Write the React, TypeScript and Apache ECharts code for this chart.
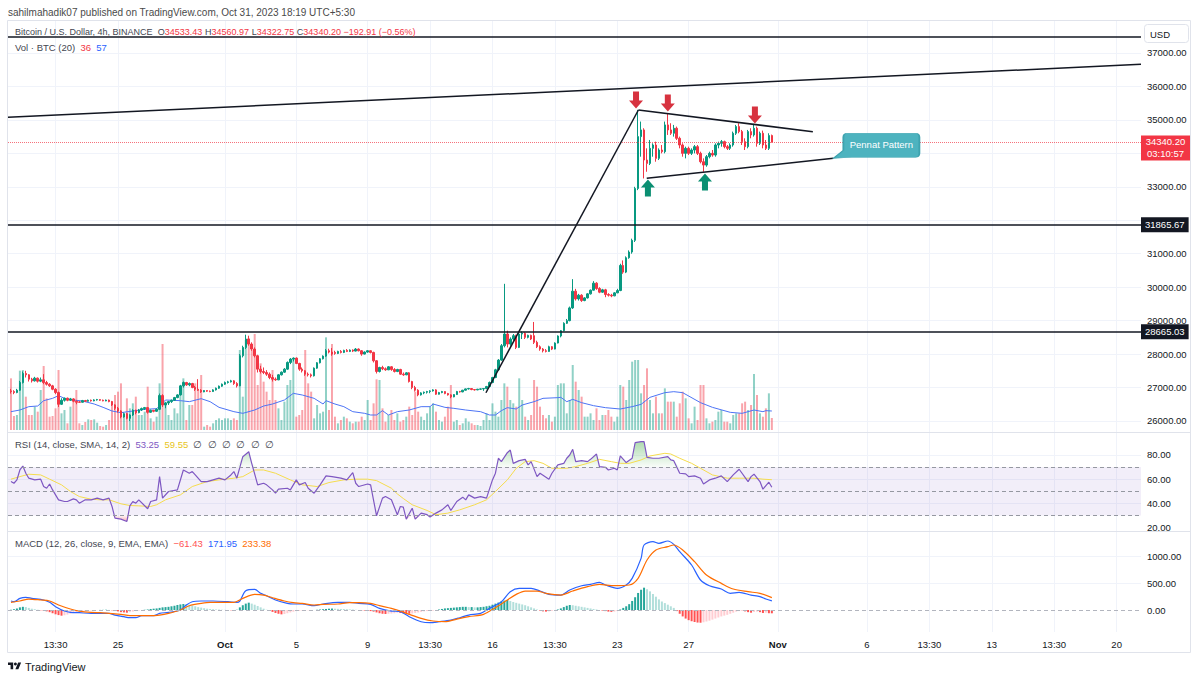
import React, { useEffect, useRef } from "react";
import * as echarts from "echarts";

// ---------- DATA ----------
const FIRST_BAR = -72; // bar index of first candle (0 = Oct 1 01:30)
const X_MIN = -73.0;
const X_MAX = 308.2;

// [open, high, low, close] per 4h candle
const OHLC: number[][] = [
  [26900,26960,26820,26880],[26880,26920,26800,26850],[26850,26960,26830,26920],[26920,27200,26900,27150],[27150,27480,27120,27420],[27420,27500,27300,27380],[27380,27400,27180,27250],[27250,27290,27150,27200],[27200,27320,27180,27280],[27280,27300,27150,27190],
  [27190,27300,27160,27230],[27230,27400,27100,27150],[27150,27200,27060,27100],[27100,27130,27020,27050],[27050,27080,26920,26950],[26950,26980,26800,26850],[26850,26880,26420,26500],[26500,26680,26480,26620],[26620,26700,26580,26680],[26680,26700,26590,26620],
  [26620,26690,26600,26660],[26660,26680,26560,26590],[26590,26620,26500,26560],[26570,26600,26540,26560],[26560,26630,26550,26610],[26610,26630,26570,26590],[26590,26640,26580,26620],[26620,26640,26580,26600],[26600,26650,26590,26630],[26630,26660,26610,26640],
  [26640,26650,26600,26620],[26620,26640,26590,26600],[26600,26640,26590,26625],[26625,26640,26560,26580],[26580,26600,26450,26480],[26480,26500,26330,26380],[26380,26420,26250,26300],[26300,26320,26080,26120],[26120,26250,26100,26220],[26220,26240,26050,26080],
  [26080,26200,26000,26180],[26180,26350,26150,26320],[26320,26340,26200,26250],[26250,26360,26230,26330],[26330,26400,26300,26370],[26370,26420,26330,26400],[26400,26420,26220,26260],[26260,26340,26240,26320],[26320,26330,26260,26290],[26290,26380,26270,26350],
  [26350,26820,26330,26760],[26760,26800,26420,26480],[26480,26560,26380,26540],[26540,26600,26480,26580],[26580,26640,26540,26620],[26620,26720,26600,26700],[26700,26800,26680,26780],[26780,27080,26760,27050],[27050,27180,27000,27150],[27150,27170,27050,27080],
  [27080,27150,27040,27120],[27120,27140,26980,27000],[27000,27050,26900,26950],[26950,27250,26900,26920],[26920,26950,26840,26870],[26870,26920,26860,26910],[26910,26920,26870,26890],[26890,26910,26860,26880],[26880,26950,26870,26930],[26930,27000,26910,26980],
  [26980,27060,26960,27040],[27040,27120,27020,27100],[27100,27180,27080,27150],[27150,27200,27120,27170],[27170,27230,27150,27200],[27200,27220,27080,27120],[27120,27160,27000,27050],[27050,28000,27040,27950],[27950,28250,27900,28200],[28200,28580,28150,28450],
  [28450,28550,28250,28300],[28300,28350,28100,28150],[28150,28200,27900,27950],[27950,27980,27450,27550],[27550,27650,27420,27480],[27480,27600,27400,27450],[27450,27520,27350,27400],[27400,27450,27250,27300],[27300,27380,27180,27250],[27250,27300,27200,27230],
  [27230,27400,27220,27380],[27380,27480,27360,27460],[27460,27580,27440,27550],[27550,27780,27530,27750],[27750,27880,27700,27850],[27850,27900,27780,27880],[27880,27900,27700,27720],[27720,27740,27500,27550],[27550,27600,27450,27500],[27500,27520,27350,27400],
  [27400,27450,27330,27380],[27380,27420,27300,27350],[27350,27600,27330,27580],[27580,27760,27560,27740],[27740,27880,27720,27860],[27860,27960,27840,27940],[27940,28150,27920,28100],[28100,28160,28020,28060],[28060,28180,27950,28000],[28050,28100,27980,28020],
  [28020,28100,28000,28080],[28080,28120,28020,28050],[28050,28130,28030,28110],[28110,28150,28060,28080],[28080,28140,28060,28120],[28120,28140,28060,28090],[28090,28180,28080,28150],[28150,28170,28080,28100],[28100,28120,27950,28000],[28000,28080,27990,28060],
  [28060,28120,28040,28100],[28100,28110,28020,28050],[28050,28070,27750,27800],[27800,27820,27420,27480],[27480,27620,27450,27600],[27600,27650,27520,27560],[27560,27600,27500,27530],[27530,27640,27520,27620],[27620,27640,27500,27540],[27540,27580,27450,27480],
  [27480,27560,27460,27540],[27540,27560,27380,27400],[27400,27450,27350,27380],[27380,27460,27370,27440],[27440,27460,27150,27180],[27180,27200,26950,27000],[27000,27050,26880,26920],[26920,26950,26740,26780],[26780,26860,26760,26840],[26840,26880,26800,26860],
  [26860,26900,26820,26880],[26880,26920,26830,26900],[26900,26950,26880,26930],[26930,26950,26780,26800],[26800,26870,26790,26850],[26850,26900,26830,26880],[26880,26890,26800,26820],[26820,26840,26760,26780],[26780,26800,26680,26720],[26720,26800,26710,26790],
  [26790,26900,26780,26880],[26880,26900,26850,26870],[26870,26930,26860,26920],[26920,26970,26910,26960],[26960,26990,26940,26970],[26970,26980,26920,26940],[26940,26950,26910,26930],[26930,26960,26920,26950],[26950,26970,26930,26960],[26960,26980,26900,26970],
  [26970,27050,26950,27030],[27030,27180,27010,27150],[27150,27320,27130,27300],[27300,27560,27280,27530],[27530,27850,27500,27820],[27820,28300,27800,28250],[28250,30100,28200,28600],[28600,28700,28200,28300],[28300,28500,28250,28450],[28450,28600,28400,28550],
  [28550,28580,28150,28200],[28200,28650,28180,28600],[28600,28680,28450,28620],[28620,28650,28450,28500],[28500,28580,28470,28560],[28560,28580,28420,28450],[28550,28960,28300,28350],[28350,28400,28180,28220],[28220,28260,28100,28150],[28150,28180,28050,28100],
  [28100,28150,28050,28080],[28080,28250,28070,28220],[28220,28240,28120,28150],[28150,28350,28140,28330],[28330,28560,28320,28540],[28540,28720,28500,28700],[28700,28950,28680,28920],[28920,29050,28900,29000],[29000,29420,28980,29380],[29380,30240,29350,29880],
  [29880,29950,29600,29650],[29650,29800,29600,29760],[29760,29790,29560,29600],[29600,29700,29580,29680],[29680,29820,29660,29800],[29800,29930,29780,29910],[29910,30180,29900,30120],[30120,30150,29920,29960],[29960,30000,29820,29850],[29850,29950,29830,29920],
  [29920,29950,29700,29780],[29780,29820,29720,29760],[29760,29800,29700,29740],[29740,29850,29730,29830],[29830,29950,29820,29900],[29900,30700,29880,30650],[30650,30800,30400,30450],[30450,30920,30420,30880],[30880,31100,30850,31050],[31050,31450,31000,31400],
  [31400,33000,31350,32950],[32950,35300,32900,34500],[34500,34950,33900,34700],[34700,34750,33250,33800],[33800,34150,33450,33700],[33700,34400,33650,34150],[34150,34300,33900,34250],[34250,34350,33750,33850],[33850,34150,33800,34100],[34100,34250,34000,34050],
  [34050,34950,34000,34850],[34850,35200,34550,34700],[34700,34900,34550,34600],[34600,34850,34500,34750],[34750,34800,34400,34450],[34450,34500,34150,34250],[34250,34300,33900,34000],[34000,34200,33850,34150],[34150,34200,33950,34000],[34000,34150,33950,34100],
  [34100,34250,34000,34200],[34200,34250,33950,34000],[34000,34050,33700,33750],[33750,33850,33450,33650],[33650,33950,33600,33900],[33900,34050,33850,34000],[34000,34100,33900,33950],[33950,34300,33900,34250],[34250,34350,34150,34300],[34300,34400,34200,34350],
  [34350,34380,34150,34200],[34200,34250,34100,34150],[34150,34300,34100,34250],[34250,34650,34200,34600],[34600,34850,34550,34800],[34800,34900,34600,34650],[34650,34700,34250,34350],[34350,34450,34100,34200],[34200,34700,34150,34650],[34650,34750,34450,34550],
  [34550,34880,34500,34750],[34750,34800,34200,34300],[34300,34650,34250,34600],[34600,34680,34150,34250],[34250,34400,34100,34150],[34150,34600,34100,34533.43],[34533.43,34560.97,34322.75,34340.2],
];

// volume (BTC) per candle
const VOLUME: number[] = [
  155,42,45,178,180,100,45,45,70,55,
  120,192,95,40,42,65,180,50,60,20,
  70,85,120,20,15,24,32,30,32,22,
  12,10,15,30,85,105,115,140,45,95,
  65,80,100,45,45,55,130,35,25,40,
  140,258,85,45,30,65,50,130,155,30,
  75,75,140,120,165,10,15,10,20,30,
  35,30,35,35,30,35,30,240,100,270,
  275,240,288,135,200,145,115,90,180,90,
  65,30,85,135,150,215,40,45,60,240,
  140,115,35,75,50,55,278,60,258,40,
  20,30,40,35,25,20,25,25,40,30,
  90,30,80,152,150,65,25,45,60,30,
  50,25,30,40,70,45,115,55,40,30,
  50,70,80,55,30,25,40,70,135,25,
  30,15,20,35,25,20,15,15,12,30,
  50,30,80,55,40,90,140,130,90,80,
  70,155,90,40,30,45,150,130,70,45,
  35,45,25,40,135,140,140,50,90,195,
  145,120,100,40,40,50,30,65,30,45,
  45,60,40,25,40,135,130,90,150,205,
  210,210,110,135,185,90,50,100,50,50,
  125,85,85,85,40,80,115,95,35,20,
  70,30,135,135,35,20,25,30,55,60,
  25,25,20,45,50,50,80,85,60,75,
  168,105,50,40,65,110,36,
];

// MACD histogram per candle
const MACD_HIST: number[] = [
  5,15,30,50,60,55,40,25,15,5,
  -5,-15,-25,-40,-60,-80,-95,-106,-100,-85,
  -70,-55,-40,-30,-20,-15,-10,-8,-5,-3,
  2,3,5,2,-5,-15,-25,-40,-45,-50,
  -40,-30,-20,-10,0,5,10,20,25,30,
  40,50,55,60,70,80,95,105,113,110,
  100,85,70,55,45,35,25,20,15,10,
  8,5,3,0,-5,-3,5,50,90,120,
  138,120,100,75,50,25,5,-15,-35,-55,
  -70,-81,-75,-60,-45,-30,-20,-15,-10,-8,
  -5,-3,0,5,10,15,20,25,28,25,
  22,20,18,15,12,10,5,0,-5,-10,
  -15,-20,-30,-45,-60,-70,-75,-70,-65,-60,
  -50,-55,-60,-65,-70,-65,-55,-45,-35,-25,
  -20,-15,-10,0,10,20,30,35,40,45,
  50,55,60,60,55,55,50,50,55,60,
  70,80,100,120,140,160,175,188,170,150,
  135,120,105,90,70,50,30,10,-10,-25,
  -30,-25,-15,-5,10,30,55,80,94,90,
  80,70,60,50,40,30,20,10,0,-10,
  -20,-30,-35,-30,-20,10,40,70,110,170,
  240,320,380,419,390,350,300,250,200,160,
  130,100,70,40,-20,-70,-120,-160,-190,-210,
  -225,-235,-238,-230,-215,-200,-180,-160,-140,-120,
  -105,-90,-70,-50,-30,-20,-15,-25,-40,-50,
  -35,-30,-40,-55,-50,-60,-61.43,
];

// sampled [barIndex, value] readings
const VOLUME_MA: number[][] = [
  [-72,55],[-69,60],[-66,70],[-63,72],[-61,88],[-58,95],[-56,103],[-54,95],[-51,90],[-48,87],[-44,78],[-41,68],[-38,57],[-35,52],[-31,57],[-27,62],[-23,64],[-22,72],[-20,90],[-15,88],[-12,85],[-8,94],[-5,85],[-2,68],[3,55],[6,50],[10,60],[13,72],[16,78],[20,90],[23,110],[26,105],[30,95],[33,78],[34,88],[37,78],[40,70],[43,55],[47,50],[49,45],[51,45],[53,58],[55,45],[58,55],[62,60],[66,70],[69,70],[70,78],[74,68],[77,65],[81,60],[86,55],[89,45],[91,45],[93,58],[95,67],[98,63],[100,75],[104,85],[107,95],[112,97],[113,98],[115,85],[117,92],[120,82],[124,73],[128,67],[133,63],[137,70],[140,77],[143,98],[148,112],[151,115],[154,112],[160,82],[164,68],[170,53],[174,50],[178,60],[181,55],[182,58],[184,57],
];
const RSI: number[][] = [
  [-72,58],[-71,56.6],[-70,59.4],[-69,67.6],[-68,70.9],[-67,64.9],[-66,60.8],[-64,59.4],[-62,60],[-61,54],[-60,52.5],[-59,56],[-58,51.1],[-56,42.9],[-54,41.5],[-53,41.5],[-51,43.7],[-50,42.9],[-49,40.1],[-47,42.9],[-45,42.9],[-43,44.3],[-41,42.9],[-39,44.3],[-38,37.4],[-37,27.8],[-35,26.9],[-33,25],[-32,37.9],[-31,41.5],[-30,40.1],[-29,42.9],[-26,35.5],[-25,41.5],[-23,42.9],[-22,62.1],[-21,44.3],[-19,49.8],[-16,51.1],[-14,67.6],[-12,64.9],[-11,66.3],[-10,63.5],[-8,58],[-6,58],[-4,59.4],[-2,60.8],[0,59.4],[2,63.5],[3,66.3],[4,60.8],[6,78.6],[8,82.7],[9,73.1],[11,55.3],[13,56.6],[14,55.3],[16,51.1],[17,48.4],[18,51.7],[21,52.5],[22,51.1],[24,59.4],[25,55.3],[27,57.2],[28,52.5],[30,48.4],[32,55.3],[34,62.7],[36,62.1],[39,60.8],[41,59.4],[43,65.4],[44,56.6],[45,53.9],[48,56],[49,55.3],[51,29.7],[53,44.3],[54,45.6],[56,42.9],[58,30.6],[59,37.4],[60,36.8],[61,26.9],[63,36],[64,26.9],[66,31.9],[68,30.6],[69,28.6],[71,31.9],[73,34.6],[75,38.8],[76,34.1],[78,41.5],[80,45.1],[81,42.9],[82,47],[84,44.3],[86,45.6],[88,44.3],[90,59.4],[91,64.9],[92,77.3],[93,74.5],[95,81.9],[96,84.1],[97,73.1],[99,75.3],[101,76.4],[102,71.8],[103,74.5],[105,62.1],[106,64.9],[109,60],[110,64.9],[112,71.8],[114,73.1],[115,77.3],[116,80],[117,84.7],[118,74.5],[120,75.3],[122,74.5],[123,76.4],[125,80.8],[126,70.4],[128,69.8],[129,67.6],[131,69],[132,67.6],[133,79.2],[135,73.7],[137,77.3],[138,90.2],[140,91],[141,91],[142,78.1],[144,77.3],[146,77.3],[149,78.6],[150,75.9],[151,75.3],[153,64.9],[155,64.4],[156,62.1],[158,62.7],[160,60.8],[161,56],[163,59.4],[165,60.8],[167,62.7],[169,58],[171,63.5],[173,68.2],[176,58],[177,62.1],[178,64.1],[180,58],[181,51.7],[183,57.5],[184,53.25],
];
const RSI_MA: number[][] = [
  [-72,60],[-69,62.1],[-66,64.1],[-62,63.5],[-59,60],[-55,55.3],[-52,49.8],[-49,45.6],[-45,43.4],[-42,42.9],[-39,42.9],[-35,39.6],[-32,38.2],[-29,37.9],[-25,37.4],[-23,38.8],[-20,42.9],[-15,47],[-11,53.9],[-6,58],[-2,59.4],[3,60.8],[6,62.1],[10,67.6],[13,67.6],[17,64.9],[22,59.4],[26,55.3],[31,53.9],[35,57.2],[40,59.4],[44,60],[48,60],[51,58.8],[56,52.5],[58,47.8],[60,44],[63,38.8],[68,34.1],[71,30.6],[75,31.9],[79,34.6],[84,38.8],[88,42.9],[91,49.8],[95,59.4],[98,69],[101,74.5],[104,75.3],[107,73.1],[110,69],[115,69],[118,70.4],[122,73.1],[126,76.4],[130,74.5],[133,73.1],[136,73.1],[140,75.9],[143,79.2],[148,81.4],[150,80.8],[153,77.3],[157,73.1],[160,69],[164,63.5],[169,60.8],[173,60.8],[178,60.8],[181,60],[184,59.55],
];
const MACD_LINE: number[][] = [
  [-72,169],[-71,156],[-69,219],[-67,238],[-65,219],[-61,188],[-59,144],[-57,63],[-54,-19],[-52,-44],[-49,-50],[-45,-63],[-42,-63],[-39,-63],[-37,-94],[-34,-125],[-32,-144],[-30,-144],[-28,-106],[-24,-106],[-22,-63],[-19,-44],[-15,0],[-13,94],[-11,156],[-8,169],[-4,169],[1,156],[4,144],[5,169],[7,363],[10,388],[12,313],[14,269],[17,188],[21,125],[23,113],[26,113],[30,81],[33,113],[38,144],[42,144],[45,125],[49,106],[52,31],[56,-19],[59,-31],[62,-125],[66,-219],[69,-238],[72,-219],[76,-188],[79,-144],[82,-94],[86,-63],[89,31],[93,156],[96,344],[99,406],[103,406],[106,356],[109,294],[113,281],[116,375],[120,456],[123,481],[126,519],[128,469],[132,406],[135,469],[137,594],[140,969],[141,1219],[144,1281],[146,1250],[149,1294],[151,1231],[153,1094],[157,844],[160,563],[163,456],[167,394],[170,313],[173,331],[177,281],[180,250],[182,206],[184,172],
];
const SIGNAL_LINE: number[][] = [
  [-72,144],[-69,169],[-66,206],[-62,188],[-59,169],[-56,94],[-52,19],[-49,-19],[-45,-44],[-42,-50],[-39,-63],[-35,-81],[-32,-106],[-29,-106],[-25,-106],[-22,-94],[-19,-63],[-15,0],[-12,81],[-8,125],[-5,144],[-2,144],[3,144],[6,219],[10,294],[13,281],[16,231],[20,169],[23,138],[26,125],[30,94],[33,106],[38,113],[42,138],[45,138],[49,125],[52,81],[56,31],[59,-19],[62,-81],[66,-156],[70,-206],[74,-219],[78,-169],[82,-125],[87,-81],[91,44],[95,188],[98,294],[101,356],[105,356],[108,313],[113,281],[117,356],[122,438],[126,481],[131,456],[136,469],[139,594],[142,938],[145,1125],[149,1188],[151,1219],[154,1125],[158,906],[162,656],[167,500],[171,394],[176,344],[180,313],[184,233],
];

// axes
const X_TICKS = [-57, -36, 0, 24, 48, 69, 90, 111, 132, 156, 186, 216, 237, 258, 279, 300];
const X_LABELS = ["13:30", "25", "Oct", "5", "9", "13:30", "16", "13:30", "23", "27", "Nov", "6", "13:30", "13", "13:30", "20"];
const MONTH_LABELS = ["Oct", "Nov"];
const PRICE_GRID = [26000, 27000, 28000, 29000, 30000, 31000, 32000, 33000, 34000, 35000, 36000, 37000];
// 32000 and 34000 are hidden behind the price badges in the reference
const PRICE_LABELS = [26000, 27000, 28000, 29000, 30000, 31000, 33000, 35000, 36000, 37000];
const RSI_TICKS = [20, 40, 60, 80];
const MACD_TICKS = [0, 500, 1000];
const MACD_GRIDLINES = [500, 1000];

// drawings
const TOP_LEVEL = 37487;
const BADGE_LEVELS = [31865.67, 28665.03];
const LAST_PRICE = 34340.2;
const COUNTDOWN = "03:10:57";
const TREND_LINES: number[][][] = [
  [[-73, 35078], [308.2, 36662]],
  [[87.8, 26844], [139.1, 35296]],
  [[139.1, 35296], [197.8, 34647]],
  [[141.9, 33254], [204.7, 33852]],
];
const RED_ARROWS: number[][] = [[138.3, 35595], [149, 35505], [178.3, 35146]];
const GREEN_ARROWS: number[][] = [[142.3, 32964], [161.5, 33143]];
const CALLOUT_ANCHOR = [204.7, 33852];
const CALLOUT_TEXT = "Pennat Pattern";

// ---------- STYLE ----------
const FONT = '"Liberation Sans", Arial, sans-serif';
const FS = 9.5;
const UP = "#089981";
const DOWN = "#f23645";
const TEXT = "#131722";
const GRIDC = "#f0f3fa";

const TV_LOGO = echarts.graphic.extendPath("M14 22H7V11H0V4h14v18z M28 22h-8l7.5-18h8L28 22z", {});
echarts.graphic.registerShape("tvlogo", TV_LOGO);

function xAxis(gridIndex: number, showLabel: boolean, showSplit: boolean) {
  return {
    type: "value",
    gridIndex,
    min: X_MIN,
    max: X_MAX,
    axisLine: { show: false },
    axisTick: { show: false, customValues: X_TICKS },
    axisLabel: {
      show: showLabel,
      customValues: X_TICKS,
      color: TEXT,
      fontSize: FS,
      fontFamily: FONT,
      margin: 7,
      formatter: (v: number) => {
        const k = X_TICKS.indexOf(Math.round(v));
        const t = k >= 0 ? X_LABELS[k] : "";
        return MONTH_LABELS.includes(t) ? `{b|${t}}` : t;
      },
      rich: { b: { fontWeight: "bold", fontSize: FS, fontFamily: FONT, color: TEXT } },
    },
    splitLine: { show: showSplit, lineStyle: { color: GRIDC, width: 1 } },
  };
}

function yAxis(gridIndex: number, min: number, max: number, labels: number[] | null, lines: number[] | null) {
  return {
    type: "value",
    gridIndex,
    position: "right",
    min,
    max,
    show: labels !== null,
    axisLine: { show: false },
    axisTick: { show: false, customValues: lines || [] },
    axisLabel: {
      show: labels !== null,
      customValues: labels || [],
      color: TEXT,
      fontSize: FS,
      fontFamily: FONT,
      margin: 6,
      formatter: (v: number) => v.toFixed(2),
    },
    splitLine: { show: lines !== null, lineStyle: { color: GRIDC, width: 1 } },
  };
}

function buildOption() {
  const candleData = OHLC.map((d, k) => [FIRST_BAR + k, d[0], d[3], d[2], d[1]]);
  const volData = VOLUME.map((v, k) => ({
    value: [FIRST_BAR + k, v],
    itemStyle: { color: OHLC[k][3] >= OHLC[k][0] ? "rgba(8,153,129,0.45)" : "rgba(242,54,69,0.45)" },
  }));
  const histData = MACD_HIST.map((h, k) => {
    const p = k > 0 ? MACD_HIST[k - 1] : h;
    const color = h >= 0 ? (h >= p ? "#26a69a" : "#b2dfdb") : h <= p ? "#ff5252" : "#ffcdd2";
    return { value: [FIRST_BAR + k, h], itemStyle: { color } };
  });

  const lineBlack = { color: TEXT, width: 1.5, type: "solid" };
  const markLineData: any[] = [
    { yAxis: TOP_LEVEL, lineStyle: lineBlack, label: { show: false } },
    ...BADGE_LEVELS.map((lv) => ({
      yAxis: lv,
      lineStyle: lineBlack,
      label: {
        show: true,
        position: "end",
        distance: 0,
        formatter: lv.toFixed(2),
        backgroundColor: TEXT,
        color: "#fff",
        fontSize: FS,
        fontFamily: FONT,
        padding: [3, 4, 2, 4],
      },
    })),
    {
      yAxis: LAST_PRICE,
      lineStyle: { color: "rgba(242,54,69,0.7)", width: 1, type: "dotted" },
      label: { show: false },
    },
    ...TREND_LINES.map(([a, b]) => [
      { coord: a, lineStyle: lineBlack, label: { show: false } },
      { coord: b },
    ]),
  ];

  const downArrow = "path://M4 0H10V9H14L7 17L0 9H4Z";
  const upArrow = "path://M7 0L14 8H10V17H4V8H0Z";
  const markPointData: any[] = [
    ...RED_ARROWS.map((c) => ({ coord: c, symbol: downArrow, symbolSize: [14, 17], itemStyle: { color: "#d7323f" }, label: { show: false } })),
    ...GREEN_ARROWS.map((c) => ({ coord: c, symbol: upArrow, symbolSize: [14, 17], itemStyle: { color: "#0b8f72" }, label: { show: false } })),
    {
      coord: CALLOUT_ANCHOR,
      symbol: "path://M0 25L10 17L10 4Q10 0 14 0L82 0Q86 0 86 4L86 20Q86 24 82 24L18 24Z",
      symbolSize: [86, 25],
      symbolOffset: [43, -12.5],
      itemStyle: { color: "#4db3bf", borderColor: "#3ea3af", borderWidth: 1 },
      label: { show: true, position: "inside", formatter: CALLOUT_TEXT, color: "#fff", fontSize: FS, fontFamily: FONT, offset: [5, -1] },
    },
    {
      coord: [X_MAX, LAST_PRICE],
      symbol: "rect",
      symbolSize: [49, 25],
      symbolOffset: [24.5, 6],
      itemStyle: { color: DOWN, opacity: 1 },
      label: {
        show: true,
        position: "inside",
        formatter: `${LAST_PRICE.toFixed(2)}\n${COUNTDOWN}`,
        color: "#ffffff",
        fontSize: FS,
        fontFamily: FONT,
        lineHeight: 12,
      },
    },
  ];

  const hdr = (x: number, y: number, text: string, rich: any) => ({
    type: "text",
    x,
    y,
    z: 100,
    silent: true,
    style: { text, fill: "#434651", fontSize: FS, fontFamily: FONT, verticalAlign: "middle", rich },
  });
  const r = (fill: string, size = FS) => ({ fill, fontSize: size, fontFamily: FONT });

  return {
    animation: false,
    backgroundColor: "#ffffff",
    textStyle: { fontFamily: FONT },
    grid: [
      { left: 8, right: 59, top: 20, height: 412, outerBoundsMode: "none" },
      { left: 8, right: 59, top: 300, height: 130, outerBoundsMode: "none" },
      { left: 8, right: 59, top: 433, height: 98, outerBoundsMode: "none" },
      { left: 8, right: 59, top: 532, height: 100, outerBoundsMode: "none" },
    ],
    xAxis: [xAxis(0, false, true), xAxis(1, false, false), xAxis(2, false, true), xAxis(3, true, true)],
    yAxis: [
      yAxis(0, 25671, 37986, PRICE_LABELS, PRICE_GRID),
      yAxis(1, 0, 390, null, null),
      yAxis(2, 17.1, 98.2, RSI_TICKS, [40, 60, 80]),
      yAxis(3, -412, 1463, MACD_TICKS, MACD_GRIDLINES),
    ],
    series: [
      {
        type: "bar",
        name: "Volume",
        xAxisIndex: 1,
        yAxisIndex: 1,
        barWidth: 2,
        z: 1,
        data: volData,
      },
      {
        type: "line",
        name: "Volume MA",
        xAxisIndex: 1,
        yAxisIndex: 1,
        showSymbol: false,
        z: 2,
        lineStyle: { color: "#4d74f5", width: 1 },
        data: VOLUME_MA,
      },
      {
        type: "candlestick",
        name: "BTCUSD",
        xAxisIndex: 0,
        yAxisIndex: 0,
        barWidth: 2,
        z: 3,
        clip: false,
        encode: { x: 0, y: [1, 2, 3, 4] },
        itemStyle: { color: UP, color0: DOWN, borderColor: UP, borderColor0: DOWN, borderWidth: 1 },
        data: candleData,
        markLine: { symbol: ["none", "none"], silent: true, animation: false, data: markLineData },
        markPoint: { silent: true, animation: false, data: markPointData },
      },
      {
        type: "line",
        name: "RSI overbought",
        xAxisIndex: 2,
        yAxisIndex: 2,
        showSymbol: false,
        lineStyle: { width: 0 },
        areaStyle: {
          origin: 70,
          color: new echarts.graphic.LinearGradient(0, 0, 0, 1, [
            { offset: 0, color: "rgba(76,175,80,0.65)" },
            { offset: 1, color: "rgba(76,175,80,0.05)" },
          ]),
        },
        data: RSI.map(([x, v]) => [x, Math.max(v, 70)]),
      },
      {
        type: "line",
        name: "RSI oversold",
        xAxisIndex: 2,
        yAxisIndex: 2,
        showSymbol: false,
        lineStyle: { width: 0 },
        areaStyle: {
          origin: 30,
          color: new echarts.graphic.LinearGradient(0, 1, 0, 0, [
            { offset: 0, color: "rgba(242,54,69,0.6)" },
            { offset: 1, color: "rgba(242,54,69,0.05)" },
          ]),
        },
        data: RSI.map(([x, v]) => [x, Math.min(v, 30)]),
      },
      {
        type: "line",
        name: "RSI",
        xAxisIndex: 2,
        yAxisIndex: 2,
        showSymbol: false,
        z: 4,
        lineStyle: { color: "#7e57c2", width: 1.2 },
        data: RSI,
        markArea: {
          silent: true,
          itemStyle: { color: "rgba(126,87,194,0.1)" },
          data: [[{ yAxis: 30 }, { yAxis: 70 }]],
        },
        markLine: {
          silent: true,
          symbol: ["none", "none"],
          label: { show: false },
          lineStyle: { color: "#9598a1", type: [4, 3], width: 1 },
          data: [{ yAxis: 70 }, { yAxis: 50 }, { yAxis: 30 }],
        },
      },
      {
        type: "line",
        name: "RSI MA",
        xAxisIndex: 2,
        yAxisIndex: 2,
        showSymbol: false,
        z: 3,
        lineStyle: { color: "#f5dc4d", width: 1 },
        data: RSI_MA,
      },
      {
        type: "bar",
        name: "Histogram",
        xAxisIndex: 3,
        yAxisIndex: 3,
        barWidth: 2,
        data: histData,
        markLine: {
          silent: true,
          symbol: ["none", "none"],
          label: { show: false },
          lineStyle: { color: "#b2b5be", type: [4, 3], width: 1 },
          data: [{ yAxis: 0 }],
        },
      },
      {
        type: "line",
        name: "MACD",
        xAxisIndex: 3,
        yAxisIndex: 3,
        showSymbol: false,
        smooth: 0.3,
        lineStyle: { color: "#2962ff", width: 1.2 },
        data: MACD_LINE,
      },
      {
        type: "line",
        name: "Signal",
        xAxisIndex: 3,
        yAxisIndex: 3,
        showSymbol: false,
        smooth: 0.3,
        lineStyle: { color: "#ff6d00", width: 1.2 },
        data: SIGNAL_LINE,
      },
    ],
    graphic: [
      { type: "rect", silent: true, z: 90, shape: { x: 7.5, y: 20.5, width: 1183, height: 632 }, style: { fill: "none", stroke: "#e0e3eb", lineWidth: 1 } },
      { type: "line", silent: true, z: 90, shape: { x1: 7.5, y1: 432.5, x2: 1190.5, y2: 432.5 }, style: { stroke: "#e0e3eb", lineWidth: 1 } },
      { type: "line", silent: true, z: 90, shape: { x1: 7.5, y1: 531.5, x2: 1190.5, y2: 531.5 }, style: { stroke: "#e0e3eb", lineWidth: 1 } },
      {
        type: "text", x: 8, y: 12, z: 100, silent: true,
        style: { text: "sahilmahadik07 published on TradingView.com, Oct 31, 2023 18:19 UTC+5:30", fill: "#4a4a4a", fontSize: 10, fontFamily: FONT, verticalAlign: "middle" },
      },
      hdr(15, 32,
        "{g|Bitcoin / U.S. Dollar, 4h, BINANCE}  {g|O}{r|34533.43} {g|H}{r|34560.97} {g|L}{r|34322.75} {g|C}{r|34340.20} {r|−192.91 (−0.56%)}",
        { g: r("#434651", 9), r: r(DOWN, 9) }),
      hdr(15, 47, "{g|Vol · BTC (20)}  {r|36}  {b|57}", { g: r("#434651"), r: r(DOWN), b: r("#2962ff") }),
      hdr(15, 444, "{g|RSI (14, close, SMA, 14, 2)}  {p|53.25}  {y|59.55}  {g|∅  ∅  ∅  ∅  ∅  ∅}", { g: r("#434651"), p: r("#7e57c2"), y: r("#e8c51c") }),
      hdr(15, 543, "{g|MACD (12, 26, close, 9, EMA, EMA)}  {r|−61.43}  {b|171.95}  {o|233.38}", { g: r("#434651"), r: r("#ff5252"), b: r("#2962ff"), o: r("#ff6d00") }),
      { type: "rect", silent: true, z: 95, shape: { x: 1144.5, y: 24.5, width: 44, height: 18, r: 3 }, style: { fill: "#fff", stroke: "#e0e3eb", lineWidth: 1 } },
      { type: "text", x: 1150, y: 34, z: 100, silent: true, style: { text: "USD", fill: TEXT, fontSize: FS, fontFamily: FONT, verticalAlign: "middle" } },
      { type: "tvlogo", x: 8, y: 661, scaleX: 0.37, scaleY: 0.37, z: 100, silent: true, style: { fill: TEXT } },
      { type: "circle", z: 100, silent: true, shape: { cx: 8 + 20 * 0.37, cy: 661 + 8 * 0.37, r: 4 * 0.37 }, style: { fill: TEXT } },
      { type: "text", x: 25, y: 667, z: 100, silent: true, style: { text: "TradingView", fill: TEXT, fontSize: 11, fontFamily: FONT, verticalAlign: "middle" } },
    ],
  };
}

export default function App() {
  const ref = useRef<HTMLDivElement>(null);
  useEffect(() => {
    document.body.style.margin = "0";
    const chart = echarts.init(ref.current as HTMLDivElement, null, { renderer: "svg" });
    chart.setOption(buildOption() as any);
    return () => chart.dispose();
  }, []);
  return (
    <div
      ref={ref}
      style={{ position: "absolute", left: 0, top: 0, width: 1200, height: 681, background: "#ffffff" }}
    />
  );
}
